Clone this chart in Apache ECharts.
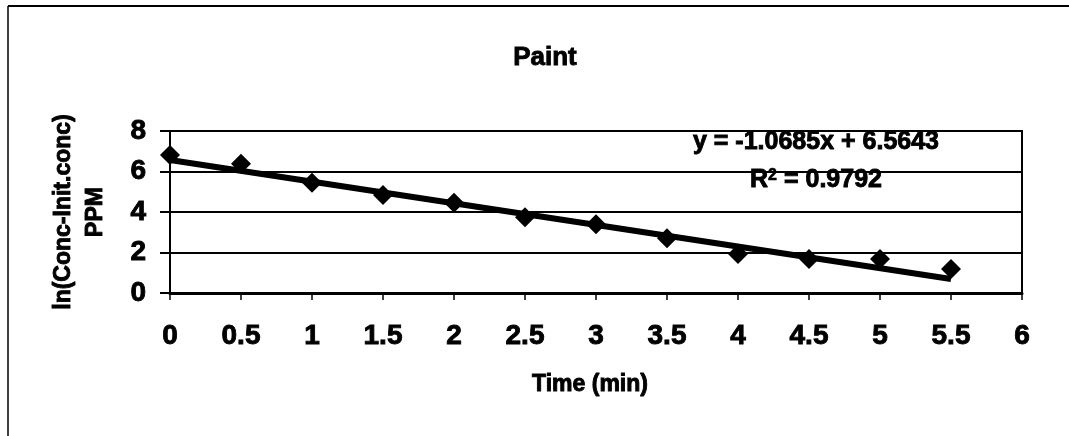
<!DOCTYPE html>
<html>
<head>
<meta charset="utf-8">
<script src="https://cdn.jsdelivr.net/npm/echarts@6/dist/echarts.min.js"></script>
<style>
  html, body { margin: 0; padding: 0; background: #fff; }
  #chart { width: 1069px; height: 436px; }
</style>
</head>
<body>
<div id="chart"></div>
<script>
// Elapsed time (min) and measured ln(Conc/Init.conc) values
var times = [0, 0.5, 1, 1.5, 2, 2.5, 3, 3.5, 4, 4.5, 5, 5.5];
var lnConc = [6.81, 6.38, 5.45, 4.84, 4.46, 3.74, 3.39, 2.70, 1.93, 1.68, 1.68, 1.18];

// Linear fit coefficients as printed on the chart
var fitSlope = [-1.0685];
var fitIntercept = [6.5643];
var fitR2 = ['0.9792'];
var fitRange = [0, 5.5];

// Axis tick settings
var xTicks = [0, 6, 0.5];
var yTicks = [0, 8, 2];

var FONT = '"Liberation Sans", Arial, sans-serif';
// heavy text: bold glyphs with a thin outline in the same colour
var HEAVY = { textBorderColor: '#000', textBorderWidth: 0.9 };

var points = times.map(function (t, i) { return [t, lnConc[i]]; });
var fitLine = fitRange.map(function (t) { return [t, fitIntercept[0] + fitSlope[0] * t]; });

function heavy(style) { return Object.assign({}, HEAVY, style); }

var chart = echarts.init(document.getElementById('chart'), null, { renderer: 'canvas' });

chart.setOption({
  animation: false,
  backgroundColor: '#fff',
  textStyle: { fontFamily: FONT },
  title: {
    text: 'Paint',
    left: 540,
    top: 40,
    textAlign: 'center',
    textStyle: heavy({ fontFamily: FONT, fontWeight: 'bold', fontSize: 26, color: '#000' })
  },
  grid: {
    left: 170, top: 131, width: 852, height: 162,
    show: true, borderColor: '#000', borderWidth: 2, backgroundColor: '#fff'
  },
  xAxis: {
    type: 'value',
    min: xTicks[0], max: xTicks[1], interval: xTicks[2],
    name: 'Time (min)',
    nameLocation: 'middle',
    nameGap: 80,
    nameTextStyle: heavy({ fontFamily: FONT, fontWeight: 'bold', fontSize: 23, color: '#000', padding: [0, 0, 0, -12] }),
    axisLine: { show: true, onZero: false, lineStyle: { color: '#000', width: 3 } },
    axisTick: { show: true, inside: false, length: 7, lineStyle: { color: '#000', width: 1.5 } },
    axisLabel: heavy({
      margin: 29,
      fontFamily: FONT, fontWeight: 'bold', fontSize: 28, color: '#000',
      formatter: function (v) { return String(v); }
    }),
    splitLine: { show: false }
  },
  yAxis: {
    type: 'value',
    min: yTicks[0], max: yTicks[1], interval: yTicks[2],
    name: 'ln(Conc-Init.conc)\nPPM',
    nameLocation: 'middle',
    nameRotate: 90,
    nameGap: 58,
    nameTextStyle: heavy({ fontFamily: FONT, fontWeight: 'bold', fontSize: 23, lineHeight: 32, color: '#000', align: 'center' }),
    axisLine: { show: true, lineStyle: { color: '#000', width: 2 } },
    axisTick: { show: true, length: 10, lineStyle: { color: '#000', width: 2 } },
    axisLabel: heavy({ margin: 24, fontFamily: FONT, fontWeight: 'bold', fontSize: 28, color: '#000' }),
    splitLine: { show: true, lineStyle: { color: '#000', width: 2 } }
  },
  graphic: [
    // outer chart frame (top and left edges)
    { type: 'line', shape: { x1: 8, y1: 6, x2: 1069, y2: 6 }, style: { stroke: '#000', lineWidth: 2 }, silent: true },
    { type: 'line', shape: { x1: 8, y1: 6, x2: 8, y2: 436 }, style: { stroke: '#000', lineWidth: 1.5 }, silent: true },
    // regression equation and R squared
    {
      type: 'text', x: 816, y: 130,
      style: {
        text: 'y = ' + fitSlope[0] + 'x + ' + fitIntercept[0],
        align: 'center', verticalAlign: 'top',
        font: 'bold 25px ' + FONT, fill: '#000', stroke: '#000', lineWidth: 0.9
      }, z: 10
    },
    {
      type: 'text', x: 816, y: 168,
      style: {
        text: '{r|R}{s|2}{r| = ' + fitR2[0] + '}',
        align: 'center', verticalAlign: 'top',
        rich: {
          r: { font: 'bold 25px ' + FONT, fill: '#000', stroke: '#000', lineWidth: 0.9, verticalAlign: 'bottom' },
          s: { font: 'bold 16px ' + FONT, fill: '#000', stroke: '#000', lineWidth: 0.6, verticalAlign: 'top' }
        }
      }, z: 10
    }
  ],
  series: [
    {
      name: 'Measured',
      type: 'scatter',
      data: points,
      symbol: 'diamond',
      symbolSize: 20,
      itemStyle: { color: '#000', opacity: 1 },
      z: 3
    },
    {
      name: 'Linear fit',
      type: 'line',
      data: fitLine,
      showSymbol: false,
      symbol: 'none',
      lineStyle: { color: '#000', width: 6 },
      z: 4
    }
  ]
});
</script>
</body>
</html>
